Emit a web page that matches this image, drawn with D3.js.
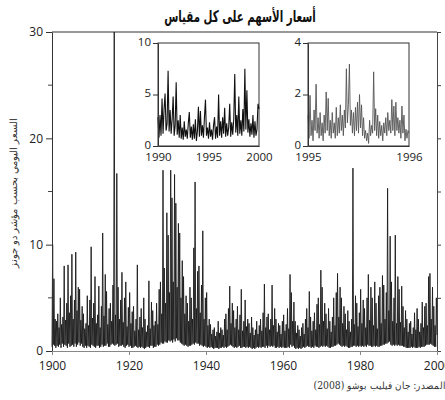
<!DOCTYPE html>
<html><head><meta charset="utf-8">
<script src="https://cdn.jsdelivr.net/npm/d3@7"></script>
<style>
body{margin:0;background:#fff;}
svg text{font-family:"Open Sans","DejaVu Sans",sans-serif;}
</style></head>
<body><svg id="c" width="445" height="400"></svg>
<script>
const titleText = "أسعار الأسهم على كل مقياس";
const yLabelText = "السعر اليومي بحسب مؤشر دو جونز";
const sourceText = "المصدر: جان فيليب بوشو (2008)";

const mainStart = 1900, mainPerYear = 6;
const mainTicksX = [1900, 1920, 1940, 1960, 1980, 2000];
const mainTicksY = [0, 10, 20, 30];
const mainMinorY = [5, 15, 25];
const mainValues = [
0.4,10.0,0.6,6.8,0.5,3.0, 0.3,2.8,0.5,3.5,0.4,2.2, 0.6,5.0,0.3,2.5,0.7,3.2, 0.4,8.0,0.6,2.9,0.5,4.5, 0.3,8.1,0.7,3.6,0.4,5.2,
0.5,9.1,0.6,3.0,0.4,4.8, 0.7,9.3,0.4,3.8,0.6,6.0, 0.8,5.8,0.5,2.9,0.7,4.2, 0.4,3.5,0.3,2.1,0.5,2.6, 0.3,5.2,0.5,2.4,0.4,4.8,
0.3,9.8,0.6,3.1,0.5,4.5, 0.4,7.0,0.3,2.6,0.5,3.4, 0.5,6.1,0.3,2.2,0.4,4.2, 0.6,11.1,0.4,3.3,0.5,7.2, 0.5,5.6,0.7,2.5,0.4,4.0,
0.4,4.5,0.6,2.8,0.7,6.2, 0.6,30.0,0.5,3.4,0.6,16.7, 0.7,6.0,0.4,3.0,0.5,4.8, 0.5,7.4,0.6,2.7,0.4,5.0, 0.3,6.5,0.5,2.3,0.6,4.1,
0.4,5.5,0.5,2.6,0.3,3.7, 0.3,4.2,0.4,1.9,0.5,3.0, 0.4,8.1,0.3,2.0,0.4,3.2, 0.3,4.0,0.4,2.2,0.3,5.0, 0.2,3.0,0.3,1.8,0.4,2.4,
0.4,6.6,0.3,2.1,0.5,4.6, 0.5,3.8,0.3,2.4,0.4,2.8, 0.4,4.5,0.6,2.5,0.5,5.8, 0.6,6.5,0.8,3.5,0.7,17.0, 0.7,7.8,0.9,4.5,0.8,13.0,
0.8,10.9,1.0,5.5,0.9,17.0, 1.0,14.4,0.8,6.5,1.1,16.6, 0.9,13.9,1.2,6.0,1.0,12.0, 1.0,11.1,0.8,5.0,0.7,8.5, 0.6,7.0,0.5,3.5,0.6,5.2,
0.5,4.5,0.4,2.8,0.5,6.0, 0.5,5.0,0.6,3.0,0.7,9.7, 0.6,15.9,0.8,4.0,0.7,7.5, 0.7,8.0,0.5,3.6,0.6,6.2, 0.5,11.3,0.4,3.0,0.5,5.0,
0.4,5.5,0.3,2.4,0.4,3.0, 0.3,2.5,0.4,1.6,0.3,2.0, 0.2,2.2,0.3,1.4,0.3,1.8, 0.3,2.8,0.2,1.7,0.3,2.2, 0.3,2.0,0.4,1.5,0.3,3.0,
0.4,3.5,0.3,2.0,0.4,4.0, 0.5,6.1,0.6,2.6,0.5,4.5, 0.4,3.8,0.3,2.2,0.4,3.0, 0.3,4.2,0.4,2.0,0.5,3.4, 0.3,5.8,0.3,1.9,0.4,2.8,
0.4,4.8,0.3,2.3,0.4,3.0, 0.3,2.6,0.4,1.7,0.3,3.2, 0.2,2.2,0.3,1.5,0.2,2.0, 0.3,2.8,0.4,1.6,0.3,2.4, 0.4,3.0,0.3,1.9,0.4,3.6,
0.4,6.3,0.3,2.2,0.5,3.2, 0.3,3.5,0.5,2.0,0.4,3.0, 0.5,6.2,0.4,2.4,0.5,4.0, 0.3,3.0,0.3,1.8,0.4,2.6, 0.3,2.4,0.4,1.6,0.3,2.8,
0.4,3.4,0.3,1.9,0.3,2.5, 0.3,4.0,0.4,2.1,0.3,7.2, 0.6,5.5,0.4,2.8,0.5,4.6, 0.3,2.8,0.2,1.7,0.3,2.4, 0.2,2.0,0.3,1.4,0.2,2.2,
0.3,2.6,0.4,1.6,0.3,3.0, 0.4,4.0,0.5,2.2,0.4,5.6, 0.4,3.2,0.3,1.9,0.4,2.8, 0.3,3.6,0.5,2.0,0.4,4.4, 0.4,5.0,0.3,2.5,0.4,7.6,
0.5,6.0,0.4,2.8,0.5,4.5, 0.4,3.5,0.5,2.1,0.4,4.0, 0.3,2.8,0.3,1.8,0.4,3.2, 0.4,5.0,0.5,2.4,0.5,5.5, 0.6,7.3,0.7,3.2,0.6,6.0,
0.5,5.0,0.4,2.6,0.5,4.2, 0.4,3.5,0.5,2.0,0.4,3.8, 0.3,2.8,0.3,1.8,0.4,3.0, 0.4,17.2,0.5,2.5,0.5,5.2, 0.4,4.5,0.5,2.3,0.4,3.6,
0.5,5.8,0.4,2.6,0.5,4.8, 0.4,4.0,0.5,2.2,0.4,5.0, 0.6,7.2,0.5,2.9,0.5,6.0, 0.4,5.0,0.4,2.4,0.5,6.5, 0.4,4.5,0.5,2.1,0.4,5.2,
0.4,6.0,0.5,2.6,0.5,7.1, 0.6,6.2,0.6,3.0,0.7,5.5, 0.7,15.3,0.8,3.8,0.9,10.8, 0.6,6.5,0.5,2.8,0.6,5.0, 0.5,10.9,0.6,2.6,0.5,7.0,
0.6,5.8,0.5,2.7,0.5,6.1, 0.5,4.2,0.4,2.2,0.4,3.8, 0.3,3.0,0.3,1.8,0.3,2.6, 0.3,2.8,0.4,1.6,0.3,2.2, 0.4,3.6,0.3,2.0,0.3,4.0,
0.3,3.0,0.4,1.8,0.3,2.6, 0.4,4.6,0.4,2.2,0.4,4.2, 0.5,4.5,0.6,2.4,0.6,7.0, 0.6,7.3,0.7,3.0,0.6,6.0, 0.5,4.2,0.4,2.4,0.4,5.0,
1.5];

const inset1Start = 1990, inset1PerYear = 10;
const inset1TicksX = [1990, 1995, 2000];
const inset1TicksY = [0, 5, 10];
const inset1Values = [
2.8,0.8,3.0,1.0,4.6,1.2,3.6,5.1,1.5,2.2,
7.3,1.4,3.5,1.2,2.6,4.8,1.0,2.0,6.2,1.1,
2.5,0.8,3.0,0.7,1.8,0.6,2.4,0.9,1.6,0.7,
2.2,3.3,0.8,1.9,0.6,2.1,0.7,2.6,0.5,1.4,
3.8,0.9,3.4,1.0,2.0,0.8,2.8,4.5,1.0,1.8,
0.7,2.3,0.9,1.6,0.6,2.0,2.8,0.7,1.9,0.8,
5.0,1.0,2.4,0.8,2.8,1.2,3.7,0.9,2.2,1.0,
1.8,4.1,0.9,2.3,1.1,2.6,7.0,1.3,3.0,1.0,
4.8,1.2,2.5,1.0,3.6,1.4,7.5,1.6,5.4,1.3,
2.6,0.9,2.2,1.1,3.0,0.8,2.4,1.0,1.6,4.1,
3.6];

const inset2Start = 1995, inset2PerYear = 100;
const inset2TicksX = [1995, 1996];
const inset2TicksY = [0, 2, 4];
const inset2Values = [
1.2,0.3,1.97,0.4,1.0,0.2,1.4,0.6,2.4,0.5,
1.1,0.3,1.3,0.4,0.9,0.2,1.2,0.5,2.1,0.6,
1.85,0.4,1.0,0.3,1.3,0.5,0.9,0.3,1.5,0.4,
1.1,0.5,1.6,0.6,1.2,0.4,1.4,0.7,3.0,0.9,
1.6,3.18,0.8,1.4,0.5,1.3,0.4,1.5,0.6,1.7,
0.5,2.0,0.7,1.6,0.4,1.1,0.3,0.6,0.2,0.5,
0.1,1.0,0.4,0.8,0.5,2.88,0.6,1.45,0.4,1.2,
0.3,0.95,0.4,0.8,0.2,0.9,0.5,1.1,0.4,1.3,
0.6,1.0,0.5,1.8,0.6,1.55,0.4,1.7,0.6,1.1,
0.5,1.0,0.3,1.55,0.5,1.2,0.2,0.65,0.3,0.6,
0.5];

const svg = d3.select("#c");
const ink = "#222";

// Title
svg.append("text").attr("transform", "translate(240,22) scale(0.64,1)").attr("text-anchor", "middle")
  .attr("direction", "rtl")
  .style("font-family", "'DejaVu Sans',sans-serif").style("font-weight", "bold")
  .style("font-size", "16px").attr("fill", "#111").text(titleText);

// Main scales
const x = d3.scaleLinear().domain([1900, 2000]).range([52, 437]);
const y = d3.scaleLinear().domain([0, 30]).range([351, 32]);

// frame: top and right
svg.append("line").attr("x1", x(1900)).attr("x2", x(2000)).attr("y1", y(30)).attr("y2", y(30)).attr("stroke", "#333").attr("stroke-width", 1.2);
const rightAx = svg.append("g").attr("transform", `translate(${x(2000)},0)`)
  .call(d3.axisRight(y).tickValues([0,5,10,15,20,25,30]).tickFormat("").tickSize(4).tickSizeOuter(0));
rightAx.selectAll("path,line").attr("stroke", "#444");

// main series
const mainData = mainValues.map((v, i) => [mainStart + i / mainPerYear, v]);
svg.append("path").datum(mainData)
  .attr("d", d3.line().x(d => x(d[0])).y(d => y(d[1])))
  .attr("fill", "none").attr("stroke", "#1a1a1a").attr("stroke-width", 0.9);

// left axis
const leftAx = svg.append("g").attr("transform", `translate(${x(1900)},0)`)
  .call(d3.axisLeft(y).tickValues(mainTicksY).tickSize(6).tickPadding(3).tickSizeOuter(0));
leftAx.selectAll("text").style("font-size", "12px").attr("fill", ink);
leftAx.selectAll("path,line").attr("stroke", "#333");
leftAx.selectAll(".minor").data(mainMinorY).enter().append("line")
  .attr("x1", -4).attr("x2", 0).attr("y1", d => y(d)).attr("y2", d => y(d)).attr("stroke", "#444");

// bottom axis
const botAx = svg.append("g").attr("transform", `translate(0,${y(0)})`)
  .call(d3.axisBottom(x).tickValues(mainTicksX).tickFormat(d3.format("d")).tickSize(4).tickPadding(6).tickSizeOuter(0));
botAx.selectAll("text").style("font-size", "12px").attr("fill", ink);
botAx.selectAll("path,line").attr("stroke", "#888");

// y label
svg.append("text").attr("transform", "translate(17,193) rotate(-90)")
  .attr("text-anchor", "middle").attr("direction", "rtl")
  .style("font-family", "'DejaVu Serif',serif").style("font-size", "10px")
  .attr("fill", "#333").text(yLabelText);

// source: one right-to-left line spanning x 312..447 (its first letter runs off the right edge)
const src = svg.append("text").attr("x", 0).attr("y", 389).attr("direction", "rtl")
  .attr("text-anchor", "middle")
  .style("font-family", "'DejaVu Serif',serif").style("font-size", "10.5px")
  .attr("fill", "#333").text(sourceText);
const sb = src.node().getBBox();
const k = 135 / sb.width;
src.attr("transform", `translate(${312 - k * sb.x},0) scale(${k},1)`);

// insets
function inset(x0, x1, yTop, yBot, dom, ydom, vals, start, per, tx, ty, color, sw) {
  const xs = d3.scaleLinear().domain(dom).range([x0, x1]);
  const ys = d3.scaleLinear().domain(ydom).range([yBot, yTop]);
  svg.append("rect").attr("x", x0).attr("y", yTop).attr("width", x1 - x0).attr("height", yBot - yTop)
    .attr("fill", "#fff").attr("stroke", "#333");
  const data = vals.map((v, i) => [start + i / per, v]);
  svg.append("path").datum(data)
    .attr("d", d3.line().x(d => xs(d[0])).y(d => ys(d[1])))
    .attr("fill", "none").attr("stroke", color).attr("stroke-width", sw);
  const la = svg.append("g").attr("transform", `translate(${x0},0)`)
    .call(d3.axisLeft(ys).tickValues(ty).tickFormat(d3.format("d")).tickSize(5).tickPadding(2).tickSizeOuter(0));
  la.selectAll("text").style("font-size", "11.5px").attr("fill", ink).attr("dy", "0.2em");
  la.selectAll("path,line").attr("stroke", "#333");
  const ba = svg.append("g").attr("transform", `translate(0,${yBot})`)
    .call(d3.axisBottom(xs).tickValues(tx).tickFormat(d3.format("d")).tickSize(0).tickPadding(7).tickSizeOuter(0));
  ba.selectAll("text").style("font-size", "11.5px").attr("fill", ink);
  ba.selectAll("path").attr("stroke", "#333");
}
inset(158, 259, 43, 146, [1990, 2000], [0, 10], inset1Values, inset1Start, inset1PerYear, inset1TicksX, inset1TicksY, "#111", 1.1);
inset(308, 409, 43, 146, [1995, 1996], [0, 4], inset2Values, inset2Start, inset2PerYear, inset2TicksX, inset2TicksY, "#555", 0.9);
</script></body></html>
